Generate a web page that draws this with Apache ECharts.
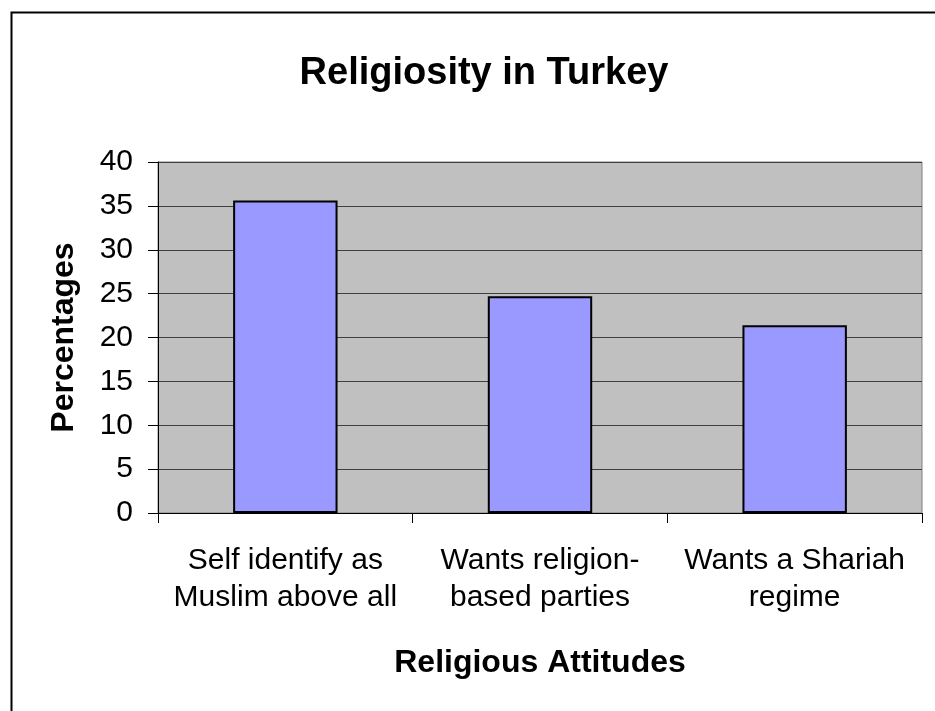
<!DOCTYPE html>
<html>
<head>
<meta charset="utf-8">
<script src="https://cdn.jsdelivr.net/npm/echarts@6/dist/echarts.min.js"></script>
<style>
html,body{margin:0;padding:0;background:#fff;}
#chart{width:935px;height:711px;}
</style>
</head>
<body>
<div id="chart"></div>
<script>
const titleText = 'Religiosity in Turkey';
const categories = ['Self identify as\nMuslim above all', 'Wants religion-\nbased parties', 'Wants a Shariah\nregime'];
const values = [35.6, 24.7, 21.4];
const yTicks = [0, 5, 10, 15, 20, 25, 30, 35, 40];
const xAxisTitle = 'Religious Attitudes';
const yAxisTitle = 'Percentages';

const chart = echarts.init(document.getElementById('chart'), null, {renderer: 'canvas'});
const FONT = '"Liberation Sans", Arial, sans-serif';
chart.setOption({
  backgroundColor: '#ffffff',
  animation: false,
  title: {
    text: titleText,
    left: 479, top: 50,
    textAlign: 'center',
    textStyle: {fontFamily: FONT, fontSize: 38, fontWeight: 'bold', color: '#000'}
  },
  graphic: [{
    type: 'rect', left: 9, top: 10, z: 100, silent: true,
    shape: {width: 1000, height: 1000},
    style: {fill: 'none', stroke: '#000', lineWidth: 2}
  }],
  grid: {left: 158, right: 13, top: 162, bottom: 198, show: true, backgroundColor: '#c0c0c0', borderColor: '#808080', borderWidth: 1},
  xAxis: {
    type: 'category',
    data: categories,
    name: xAxisTitle,
    nameLocation: 'middle',
    nameGap: 134,
    nameTextStyle: {fontFamily: FONT, fontSize: 32, fontWeight: 'bold', color: '#000', verticalAlign: 'top'},
    axisLine: {show: true, lineStyle: {color: '#000', width: 1}},
    axisTick: {show: true, length: 10, lineStyle: {color: '#000'}},
    axisLabel: {fontFamily: FONT, fontSize: 30, color: '#000', margin: 29, lineHeight: 37, interval: 0},
    splitLine: {show: false}
  },
  yAxis: {
    type: 'value',
    min: 0, max: 40, interval: 5,
    name: yAxisTitle,
    nameLocation: 'middle',
    nameGap: 78,
    nameRotate: 90,
    nameTextStyle: {fontFamily: FONT, fontSize: 32, fontWeight: 'bold', color: '#000'},
    axisLine: {show: true, lineStyle: {color: '#000', width: 1}},
    axisTick: {show: true, length: 10, lineStyle: {color: '#000'}},
    axisLabel: {fontFamily: FONT, fontSize: 30, color: '#000', margin: 25,
      formatter: v => yTicks.includes(v) ? String(v) : ''},
    splitLine: {show: true, lineStyle: {color: '#404040', width: 1}}
  },
  series: [{
    type: 'bar',
    data: values,
    barWidth: '41%',
    itemStyle: {color: '#9999ff', borderColor: '#000', borderWidth: 2}
  }]
});
</script>
</body>
</html>
